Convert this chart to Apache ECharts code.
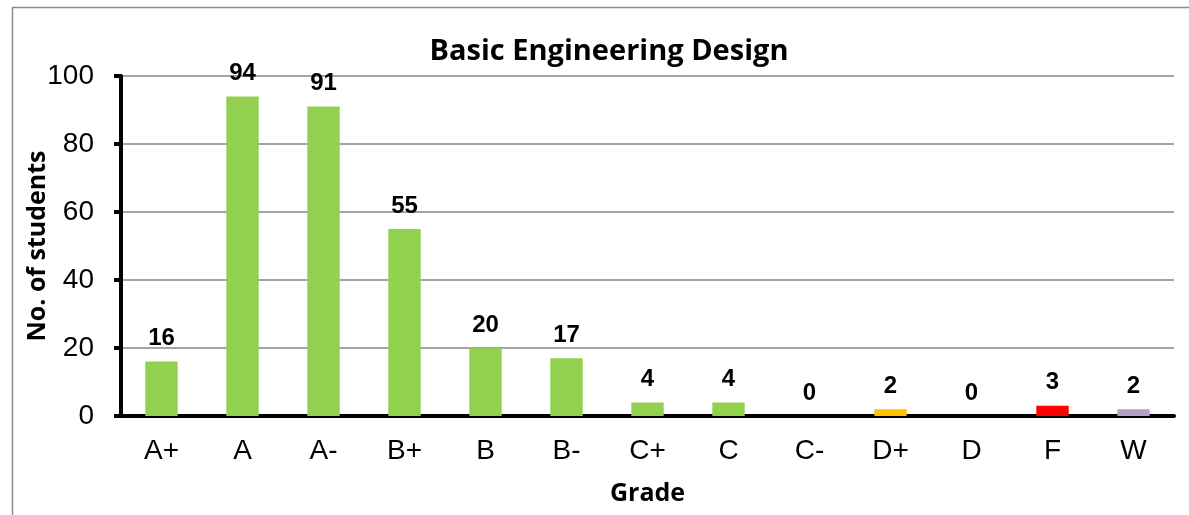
<!DOCTYPE html>
<html>
<head>
<meta charset="utf-8">
<script src="https://cdn.jsdelivr.net/npm/echarts@6/dist/echarts.min.js"></script>
<style>
  html, body { margin: 0; padding: 0; background: #fff; }
  #chart { width: 1189px; height: 515px; }
</style>
</head>
<body>
<div id="chart"></div>
<script>
const grades = ['A+', 'A', 'A-', 'B+', 'B', 'B-', 'C+', 'C', 'C-', 'D+', 'D', 'F', 'W']
const students = [16, 94, 91, 55, 20, 17, 4, 4, 0, 2, 0, 3, 2]
const barColors = ['#92D050', '#92D050', '#92D050', '#92D050', '#92D050', '#92D050', '#92D050',
  '#92D050', '#92D050', '#FFC000', '#92D050', '#FF0000', '#B3A2C7']

const chart = echarts.init(document.getElementById('chart'))

chart.setOption({
  animation: false,
  title: {
    text: 'Basic Engineering Design',
    left: 604,
    top: 32,
    textAlign: 'center',
    textStyle: { fontFamily: 'Open Sans', fontWeight: 'bold', fontSize: 29, color: '#000' }
  },
  graphic: [{
    type: 'rect',
    shape: { x: 12.5, y: 7.5, width: 1300, height: 600 },
    style: { fill: 'none', stroke: '#8a8a8a', lineWidth: 1.5 },
    silent: true
  }],
  grid: { left: 121, right: 15, top: 76, bottom: 99 },
  xAxis: {
    type: 'category',
    data: grades,
    name: 'Grade',
    nameLocation: 'middle',
    nameGap: 65,
    nameMoveOverlap: false,
    nameTextStyle: { fontFamily: 'Open Sans', fontWeight: 'bold', fontSize: 25, color: '#000' },
    axisLine: { lineStyle: { color: '#000', width: 4 } },
    axisTick: { length: 7, lineStyle: { color: '#000', width: 4 } },
    axisLabel: { margin: 21, fontFamily: 'Liberation Sans', fontSize: 28, color: '#000' }
  },
  yAxis: {
    type: 'value',
    min: 0,
    max: 100,
    interval: 20,
    name: 'No. of students',
    nameLocation: 'middle',
    nameGap: 71,
    nameMoveOverlap: false,
    nameTextStyle: { fontFamily: 'Open Sans', fontWeight: 'bold', fontSize: 25, color: '#000' },
    axisLine: { show: true, lineStyle: { color: '#000', width: 4 } },
    axisTick: { show: true, length: 7, lineStyle: { color: '#000', width: 4 } },
    axisLabel: { margin: 27, fontFamily: 'Liberation Sans', fontSize: 28, color: '#000' },
    splitLine: { lineStyle: { color: '#868686', width: 1.5 } }
  },
  series: [{
    type: 'bar',
    data: students.map((v, i) => ({ value: v, itemStyle: { color: barColors[i] } })),
    barWidth: '40%',
    label: {
      show: true,
      position: 'top',
      distance: 11,
      fontFamily: 'Liberation Sans',
      fontWeight: 'bold',
      fontSize: 24,
      color: '#000'
    }
  }]
})
</script>
</body>
</html>
